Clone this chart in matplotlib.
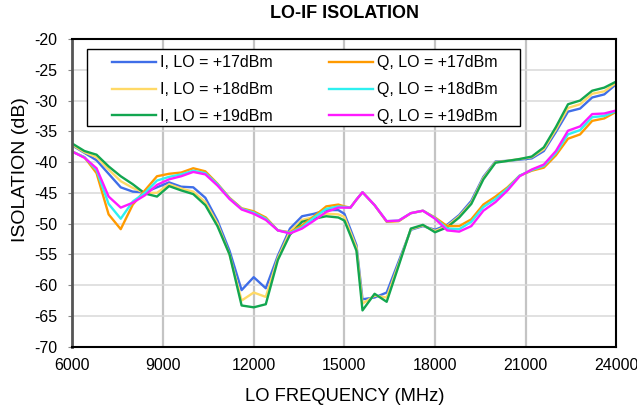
import numpy as np
import matplotlib
matplotlib.use("Agg")
import matplotlib.pyplot as plt
from matplotlib.patches import Rectangle

plt.rcParams['font.family'] = ['Liberation Sans', 'DejaVu Sans']
plt.rcParams['axes.unicode_minus'] = False

# LO frequency (MHz)
freq = [6000, 6400, 6800, 7200, 7600, 8000, 8400, 8800, 9200, 9600,
        10000, 10400, 10800, 11200, 11600, 12000, 12400, 12800, 13200, 13600,
        14000, 14400, 14800, 15000, 15200, 15400, 15600, 16000, 16400, 16800,
        17200, 17600, 18000, 18400, 18800, 19200, 19600, 20000, 20400, 20800,
        21200, 21600, 22000, 22400, 22800, 23200, 23600, 24000]

# isolation (dB)
i_17 = [-37.3, -38.5, -39.7, -41.9, -44.1, -44.8, -44.9, -44.1, -43.3, -44.0,
        -44.1, -45.8, -49.5, -54.4, -60.8, -58.7, -60.5, -55.2, -50.8, -48.8,
        -48.4, -47.8, -47.8, -48.4, -50.9, -53.5, -62.3, -62.0, -61.2, -56.1,
        -51.0, -50.4, -51.0, -50.2, -48.6, -46.3, -42.4, -39.9, -39.8, -39.6,
        -39.4, -38.2, -35.1, -31.8, -31.3, -29.5, -29.0, -27.3]
i_18 = [-37.2, -38.4, -39.2, -41.2, -43.1, -44.2, -45.0, -45.0, -43.6, -44.3,
        -44.8, -46.5, -50.0, -55.0, -62.5, -61.2, -61.9, -55.6, -51.3, -49.4,
        -48.9, -48.4, -48.5, -48.9, -51.4, -53.9, -63.0, -61.7, -62.0, -56.5,
        -50.9, -50.3, -51.2, -50.4, -48.8, -46.6, -42.6, -40.0, -39.8, -39.5,
        -39.2, -37.9, -34.7, -31.2, -30.6, -28.9, -28.5, -27.1]
i_19 = [-37.0, -38.2, -38.8, -40.7, -42.3, -43.6, -45.1, -45.6, -43.9, -44.6,
        -45.2, -47.0, -50.4, -55.0, -63.3, -63.6, -63.1, -55.9, -51.8, -49.7,
        -49.2, -48.8, -49.0, -49.5, -51.9, -54.4, -64.1, -61.4, -62.7, -56.8,
        -50.8, -50.2, -51.4, -50.6, -49.0, -46.8, -42.8, -40.1, -39.8, -39.5,
        -39.1, -37.6, -34.3, -30.6, -30.0, -28.4, -27.9, -26.9]
q_17 = [-38.3, -39.2, -41.8, -48.5, -50.9, -46.9, -44.6, -42.3, -41.9, -41.7,
        -41.0, -41.5, -43.5, -45.8, -47.5, -48.0, -49.0, -51.1, -51.4, -50.3,
        -48.8, -47.2, -46.9, -47.2, -47.4, -46.1, -44.9, -47.0, -49.7, -49.6,
        -48.3, -47.9, -49.0, -50.4, -50.4, -49.3, -46.9, -45.6, -44.1, -42.2,
        -41.4, -40.9, -38.9, -36.2, -35.5, -33.3, -32.9, -31.8]
q_18 = [-38.3, -39.2, -41.3, -46.8, -49.2, -46.4, -45.0, -43.0, -42.4, -42.0,
        -41.4, -41.8, -43.6, -45.9, -47.6, -48.2, -49.2, -51.1, -51.5, -50.6,
        -49.0, -47.6, -47.2, -47.3, -47.4, -46.1, -44.9, -47.0, -49.6, -49.5,
        -48.3, -47.9, -49.1, -50.8, -50.9, -49.7, -47.3, -46.0, -44.3, -42.2,
        -41.3, -40.6, -38.5, -35.5, -34.8, -32.7, -32.5, -31.7]
q_19 = [-38.3, -39.3, -41.0, -45.6, -47.4, -46.6, -45.4, -43.7, -42.8, -42.3,
        -41.6, -42.0, -43.8, -46.0, -47.7, -48.4, -49.4, -51.1, -51.6, -50.8,
        -49.5, -48.1, -47.4, -47.4, -47.4, -46.1, -44.9, -47.0, -49.6, -49.5,
        -48.3, -47.9, -49.2, -51.1, -51.3, -50.4, -47.9, -46.5, -44.6, -42.3,
        -41.2, -40.4, -38.2, -34.9, -34.2, -32.2, -32.1, -31.6]

labels = ["I, LO = +17dBm", "I, LO = +18dBm", "I, LO = +19dBm",
          "Q, LO = +17dBm", "Q, LO = +18dBm", "Q, LO = +19dBm"]
colors = ["#3f6ee8", "#ffd966", "#12a650", "#ff9a00", "#2ef0f0", "#ff1aff"]

fig = plt.figure(figsize=(6.37, 4.09), dpi=100)
ax = fig.add_axes([0.1136, 0.1523, 0.854, 0.7523])

for y, lab, c in zip([i_17, i_18, i_19, q_17, q_18, q_19], labels, colors):
    ax.plot(freq, y, color=c, lw=1.7, label=lab)

ax.set_xlim(6000, 24000)
ax.set_ylim(-70, -20)
ax.set_xticks(np.arange(6000, 24001, 3000))
ax.set_yticks(np.arange(-70, -19, 5))

# vertical grid darker than horizontal
for xv in range(9000, 24000, 3000):
    ax.axvline(xv, color="#c4c4c4", lw=1.6, zorder=0)
for yv in range(-65, -20, 5):
    ax.axhline(yv, color="#d9d9d9", lw=1.1, zorder=0)

for s in ax.spines.values():
    s.set_color("black")
    s.set_linewidth(1.5)
ax.spines['left'].set_color("#555555")
ax.spines['left'].set_linewidth(2)

ax.tick_params(axis='y', direction='out', length=3, width=0.8, color="#888888", labelsize=11.5, pad=8)
ax.tick_params(axis='x', length=0, labelsize=11.5, pad=8)

ax.set_xlabel("LO FREQUENCY (MHz)", fontsize=13.2, labelpad=11)
ax.set_ylabel("ISOLATION (dB)", fontsize=14)
ax.yaxis.set_label_coords(-0.080, 0.575)
ax.set_title("LO-IF ISOLATION", fontsize=13, fontweight="bold", pad=15)

# legend box drawn separately so the padding can match
ax.add_patch(Rectangle((0.0276, 0.7173), 0.8235 - 0.0276, 0.9665 - 0.7173,
                       transform=ax.transAxes, facecolor="white", edgecolor="black",
                       lw=1.0, zorder=3))
leg = ax.legend(ncol=2, loc="upper left", bbox_to_anchor=(0.0728, 0.947),
                fontsize=11.5, frameon=False, handlelength=2.78,
                columnspacing=3.5, labelspacing=0.74, borderpad=0, handletextpad=0.25,
                borderaxespad=0)
leg.set_zorder(4)

fig.savefig("out.png", dpi=100)
